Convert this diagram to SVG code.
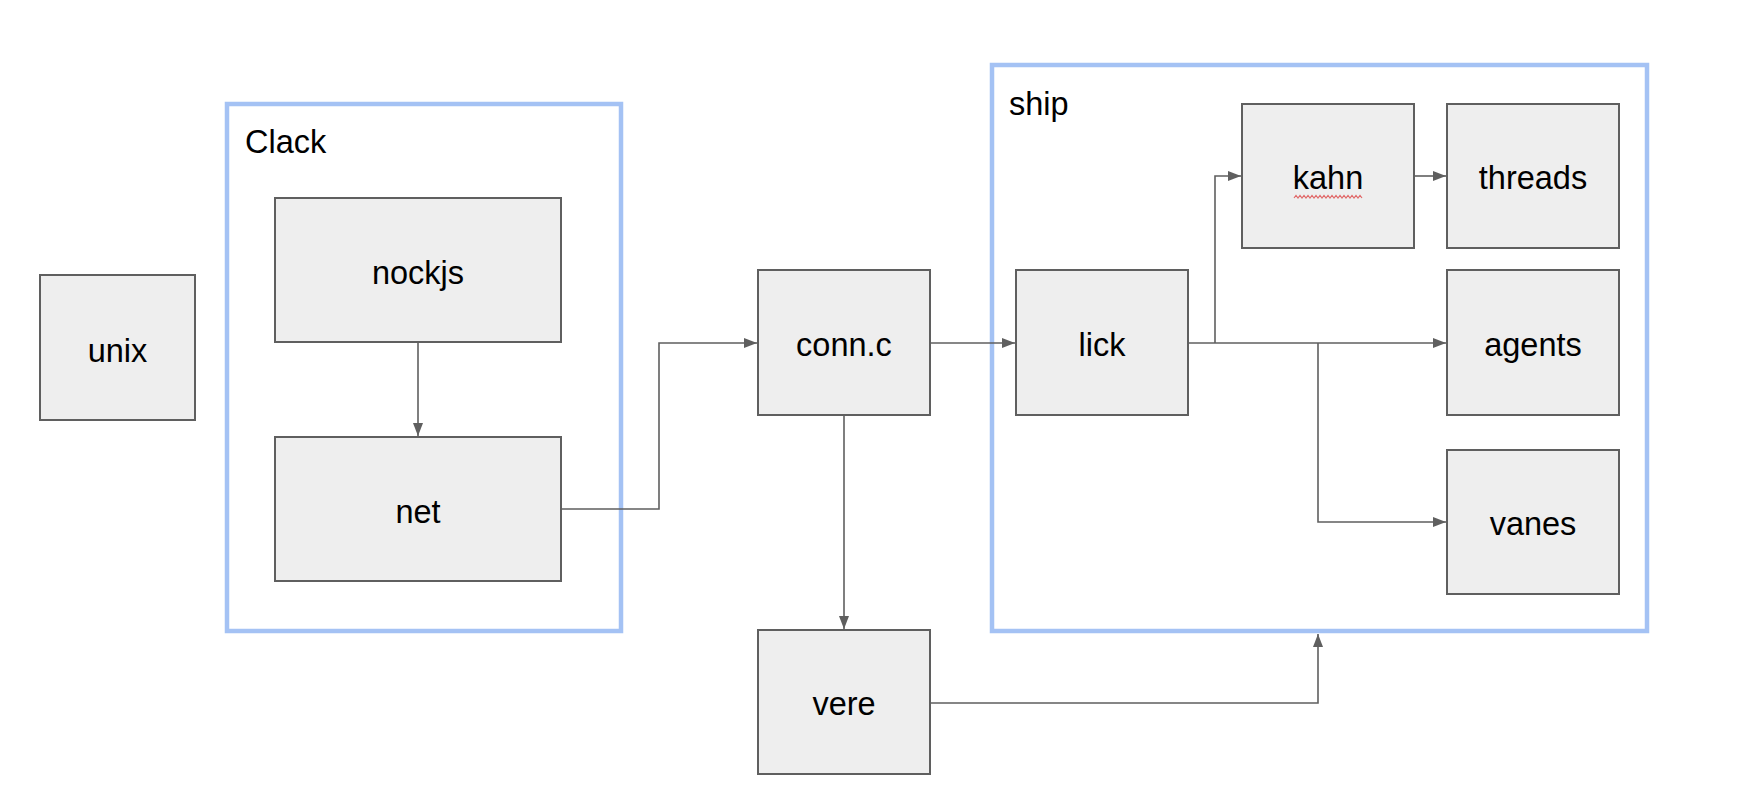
<svg xmlns="http://www.w3.org/2000/svg" width="1752" height="808" viewBox="0 0 1752 808">
<style>
.box{fill:#eeeeee;stroke:#5f5f5f;stroke-width:2}
.grp{fill:none;stroke:#a4c2f4;stroke-width:4.5}
.lbl{font-family:"Liberation Sans",Arial,sans-serif;font-size:32.5px;fill:#000;text-anchor:middle}
.glbl{font-family:"Liberation Sans",Arial,sans-serif;font-size:32.5px;fill:#000}
.edge{fill:none;stroke:#5f5f5f;stroke-width:1.6}
</style>
<defs>
<marker id="arr" markerUnits="userSpaceOnUse" markerWidth="14" markerHeight="12" refX="13" refY="5" orient="auto">
<path d="M0,0 L13,5 L0,10 z" fill="#5f5f5f"/>
</marker>
</defs>
<rect width="1752" height="808" fill="#ffffff"/>
<g id="clack">
<rect class="grp" x="227" y="104" width="394" height="527"/>
<text class="glbl" x="245" y="153">Clack</text>
</g>
<g id="ship">
<rect class="grp" x="992" y="65" width="655" height="566"/>
<text class="glbl" x="1009" y="115">ship</text>
</g>
<g id="connectors">
<path class="edge" d="M418,342 L418,436" marker-end="url(#arr)"/>
<path class="edge" d="M561,509 L659,509 L659,343 L757,343" marker-end="url(#arr)"/>
<path class="edge" d="M930,343 L1015,343" marker-end="url(#arr)"/>
<path class="edge" d="M844,415 L844,629" marker-end="url(#arr)"/>
<path class="edge" d="M1188,343 L1446,343" marker-end="url(#arr)"/>
<path class="edge" d="M1215,343 L1215,176 L1241,176" marker-end="url(#arr)"/>
<path class="edge" d="M1414,176 L1446,176" marker-end="url(#arr)"/>
<path class="edge" d="M1318,343 L1318,522 L1446,522" marker-end="url(#arr)"/>
<path class="edge" d="M930,703 L1318,703 L1318,634" marker-end="url(#arr)"/>
</g>
<g id="unix">
<rect class="box" x="40" y="275" width="155" height="145"/>
<text class="lbl" x="117.5" y="362">unix</text>
</g>
<g id="nockjs">
<rect class="box" x="275" y="198" width="286" height="144"/>
<text class="lbl" x="418" y="284">nockjs</text>
</g>
<g id="net">
<rect class="box" x="275" y="437" width="286" height="144"/>
<text class="lbl" x="418" y="523">net</text>
</g>
<g id="connc">
<rect class="box" x="758" y="270" width="172" height="145"/>
<text class="lbl" x="844" y="356">conn.c</text>
</g>
<g id="vere">
<rect class="box" x="758" y="630" width="172" height="144"/>
<text class="lbl" x="844" y="715">vere</text>
</g>
<g id="lick">
<rect class="box" x="1016" y="270" width="172" height="145"/>
<text class="lbl" x="1102" y="356">lick</text>
</g>
<g id="kahn">
<rect class="box" x="1242" y="104" width="172" height="144"/>
<text class="lbl" x="1328" y="189">kahn</text>
<path d="M1294,198 l2,-2.5 l2,2.5 l2,-2.5 l2,2.5 l2,-2.5 l2,2.5 l2,-2.5 l2,2.5 l2,-2.5 l2,2.5 l2,-2.5 l2,2.5 l2,-2.5 l2,2.5 l2,-2.5 l2,2.5 l2,-2.5 l2,2.5 l2,-2.5 l2,2.5 l2,-2.5 l2,2.5 l2,-2.5 l2,2.5 l2,-2.5 l2,2.5 l2,-2.5 l2,2.5 l2,-2.5 l2,2.5 l2,-2.5 l2,2.5 l2,-2.5 l2,2.5" fill="none" stroke="#e06666" stroke-width="1.2"/>
</g>
<g id="threads">
<rect class="box" x="1447" y="104" width="172" height="144"/>
<text class="lbl" x="1533" y="189">threads</text>
</g>
<g id="agents">
<rect class="box" x="1447" y="270" width="172" height="145"/>
<text class="lbl" x="1533" y="356">agents</text>
</g>
<g id="vanes">
<rect class="box" x="1447" y="450" width="172" height="144"/>
<text class="lbl" x="1533" y="535">vanes</text>
</g>
</svg>
